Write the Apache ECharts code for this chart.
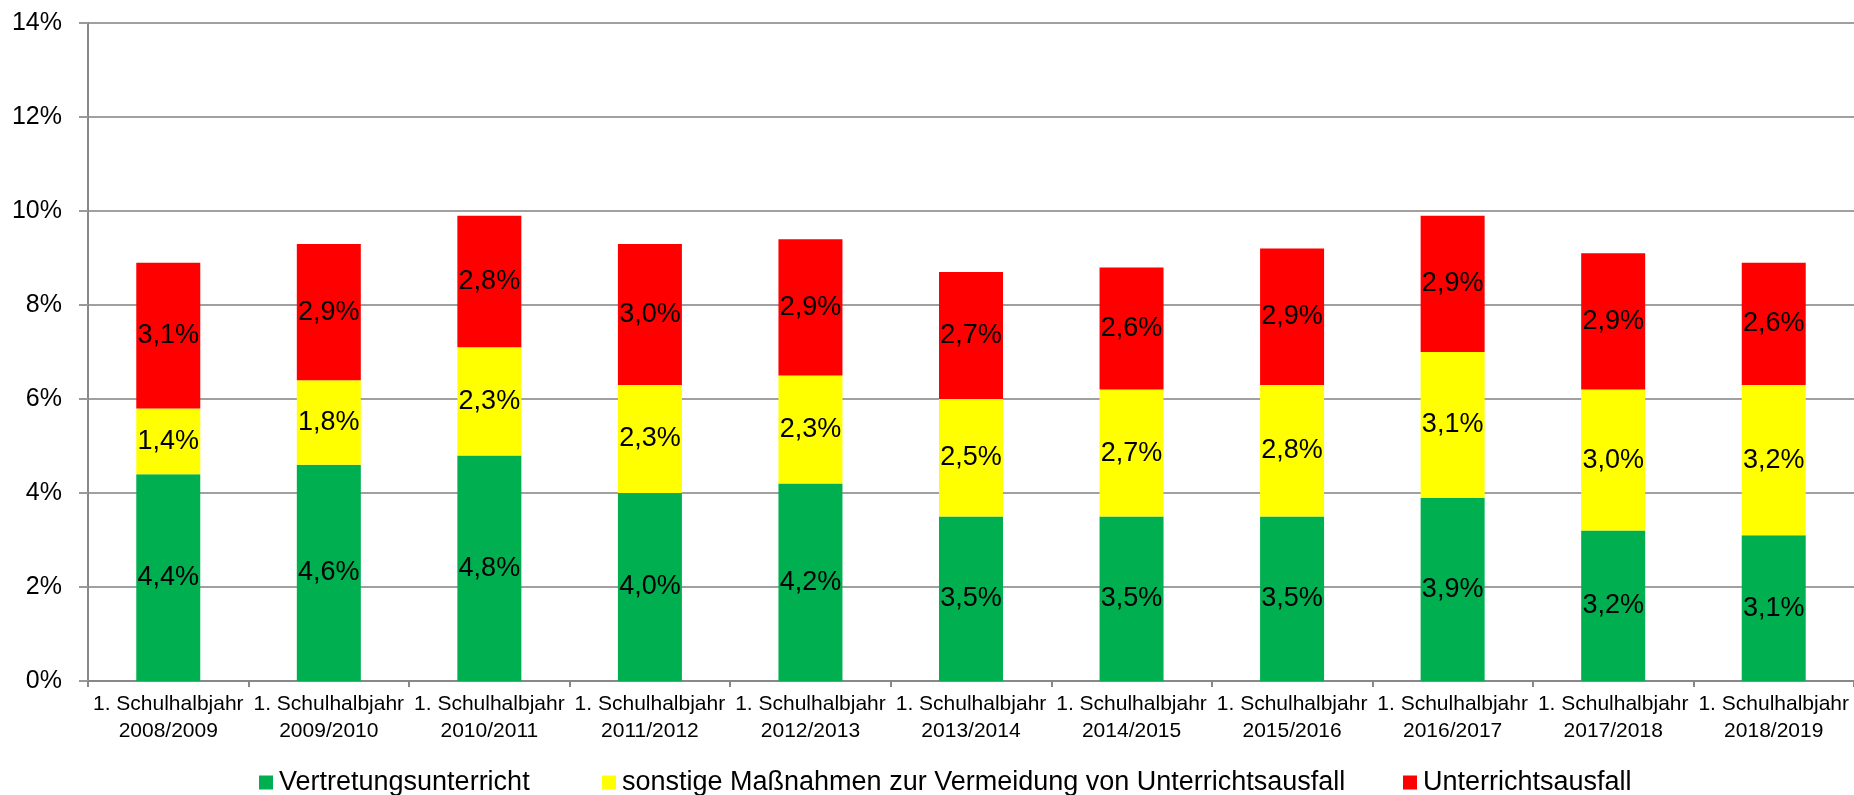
<!DOCTYPE html>
<html><head><meta charset="utf-8">
<script src="https://cdn.jsdelivr.net/npm/echarts@6/dist/echarts.min.js"></script>
<style>html,body{margin:0;padding:0;background:#fff}#c{width:1854px;height:795px}</style>
</head><body><div id="c"></div>
<script>
const categories = ['1. Schulhalbjahr\n2008/2009','1. Schulhalbjahr\n2009/2010','1. Schulhalbjahr\n2010/2011','1. Schulhalbjahr\n2011/2012','1. Schulhalbjahr\n2012/2013','1. Schulhalbjahr\n2013/2014','1. Schulhalbjahr\n2014/2015','1. Schulhalbjahr\n2015/2016','1. Schulhalbjahr\n2016/2017','1. Schulhalbjahr\n2017/2018','1. Schulhalbjahr\n2018/2019'];
const vertretung = [4.4,4.6,4.8,4.0,4.2,3.5,3.5,3.5,3.9,3.2,3.1];
const sonstige = [1.4,1.8,2.3,2.3,2.3,2.5,2.7,2.8,3.1,3.0,3.2];
const ausfall = [3.1,2.9,2.8,3.0,2.9,2.7,2.6,2.9,2.9,2.9,2.6];
const seriesNames = ['Vertretungsunterricht','sonstige Maßnahmen zur Vermeidung von Unterrichtsausfall','Unterrichtsausfall'];
const yTicks = {min:0,max:14,interval:2};

const font = 'Liberation Sans, Arial, sans-serif';
const chart = echarts.init(document.getElementById('c'), null, {renderer:'canvas'});
const lbl = {show:true, position:'inside', color:'#000', fontFamily:font, fontSize:27,
  formatter: p => p.value.toFixed(1).replace('.', ',') + '%'};
const colors = ['#00B050','#FFFF00','#FF0000'];
const legendLeft = [259, 602, 1403];
chart.setOption({
  animation:false,
  textStyle:{fontFamily:font},
  grid:{left:88,right:0,top:23,bottom:114,containLabel:false},
  legend: seriesNames.map((n,i)=>({data:[n], left:legendLeft[i], top:769, icon:'rect', itemWidth:14, itemHeight:14, itemGap:6,
    textStyle:{fontFamily:font,fontSize:27,color:'#000',padding:[0,0,0,1]}, padding:0})),
  xAxis:{type:'category',data:categories,
    axisLine:{lineStyle:{color:'#888',width:2}},
    axisTick:{show:true,length:6,lineStyle:{color:'#888',width:2}},
    axisLabel:{interval:0,color:'#000',fontFamily:font,fontSize:21,lineHeight:27,margin:10}},
  yAxis:{type:'value',min:yTicks.min,max:yTicks.max,interval:yTicks.interval,
    axisLine:{show:true,lineStyle:{color:'#888',width:2}},
    axisTick:{show:true,length:9,lineStyle:{color:'#999',width:2}},
    splitLine:{lineStyle:{color:'#a0a0a0',width:2}},
    axisLabel:{formatter:'{value}%',color:'#000',fontFamily:font,fontSize:25,margin:26}},
  series:[vertretung,sonstige,ausfall].map((d,i)=>({
    name:seriesNames[i], type:'bar', stack:'a', data:d, barWidth:64,
    itemStyle:{color:colors[i]}, label:lbl
  }))
});
</script></body></html>
